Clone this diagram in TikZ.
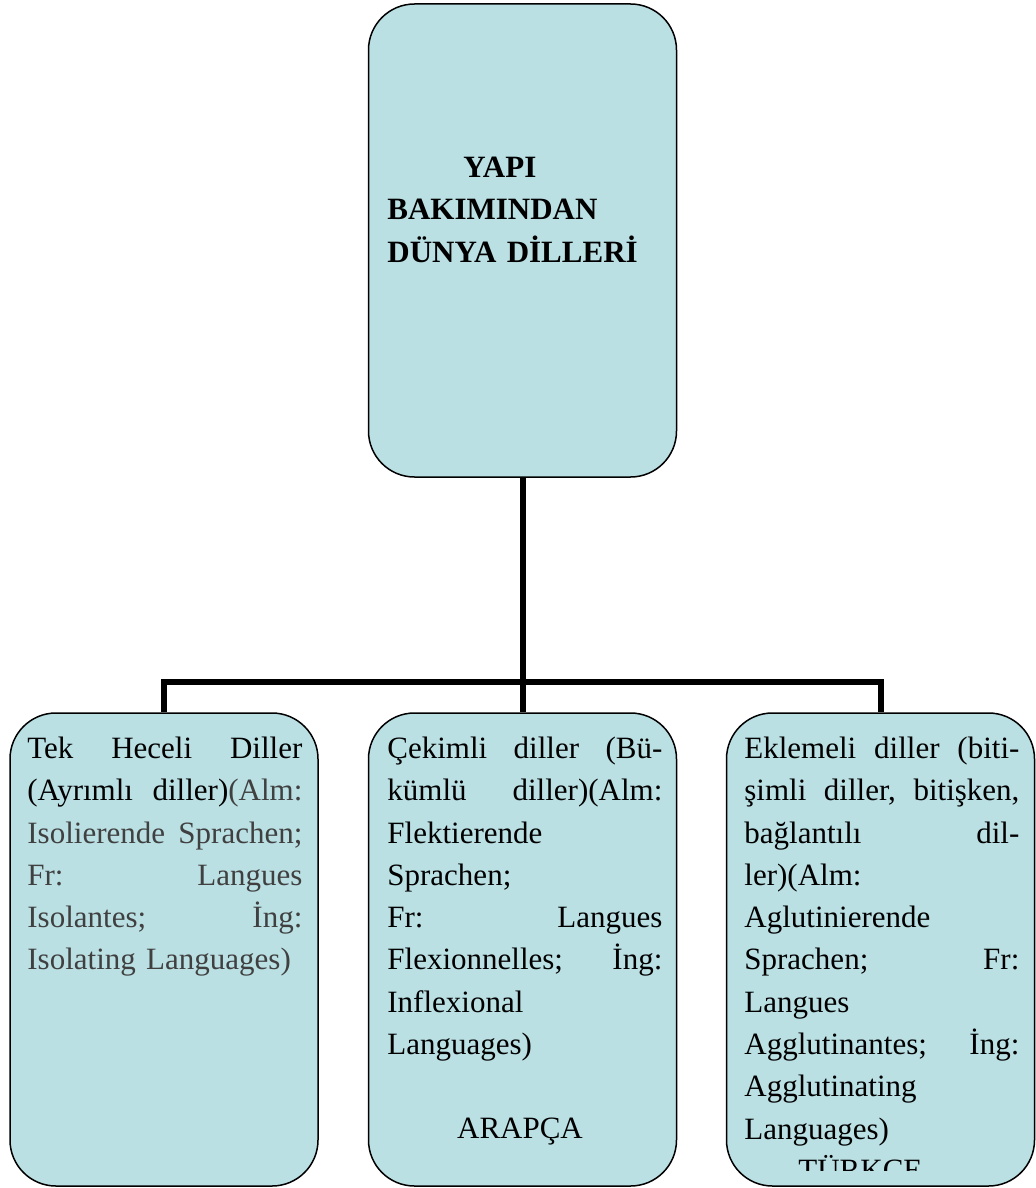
\documentclass[tikz,border=0pt]{standalone}
\usepackage{fontspec}
\setmainfont{Liberation Serif}
\definecolor{boxfill}{RGB}{186,224,228}
\definecolor{glossgray}{RGB}{64,64,64}
\newcommand{\boxfont}{\fontsize{15.5pt}{21.15pt}\selectfont}

\begin{document}
\begin{tikzpicture}[x=0.5pt, y=-0.5pt,
    langbox/.style={draw, line width=0.75pt, fill=boxfill, rounded corners=23pt,
      minimum width=154pt, minimum height=236.5pt, inner sep=0pt},
    boxtext/.style={anchor=north west, inner sep=0pt, text width=137.5pt,
      align=left, font=\boxfont},
    langname/.style={inner sep=0pt, font=\boxfont},
    link/.style={line width=3pt}]
  \useasboundingbox (0,0) rectangle (1035,1188);

  \node[langbox] (root) at (522.5,240.5) {};
  \node[boxtext, font=\boxfont\bfseries] (title) at (387,147.4)
    {\strut\hspace*{38pt}YAPI\\ BAKIMINDAN\\ DÜNYA DİLLERİ};

  \node[langbox] (isolating) at (164,949.5) {};
  \node[langbox] (inflecting) at (522.5,949.5) {};
  \node[langbox] (agglutinative) at (880.5,949.5) {};

  \node[boxtext] (isolatingtext) at (27,728.4)
    {\strut Tek\hfill Heceli\hfill Diller\\
     (Ayrımlı\hfill diller)\textcolor{glossgray}{(Alm:}\\
     \color{glossgray}Isolierende\hfill Sprachen;\\
     Fr:\hfill Langues\\
     Isolantes;\hfill İng:\\
     Isolating Languages)};
  \node[boxtext] (inflectingtext) at (387,728.4)
    {\strut Çekimli\hfill diller\hfill (Bü-\\
     kümlü\hfill diller)(Alm:\\
     Flektierende\\
     Sprachen;\\
     Fr:\hfill Langues\\
     Flexionnelles;\hfill İng:\\
     Inflexional\\
     Languages)};
  \node[boxtext] (agglutinativetext) at (744,728.4)
    {\strut Eklemeli\hfill diller\hfill (biti-\\
     şimli\hfill diller,\hfill bitişken,\\
     bağlantılı\hfill dil-\\
     ler)(Alm:\\
     Aglutinierende\\
     Sprachen;\hfill Fr:\\
     Langues\\
     Agglutinantes;\hfill İng:\\
     Agglutinating\\
     Languages)};

  \node[langname, anchor=base] (arabic) at (520,1138) {ARAPÇA};
  \begin{scope}
    \clip (727,1100) rectangle (1035,1170);
    \node[langname, anchor=base west] (turkish) at (798,1180) {TÜRKÇE};
  \end{scope}

  % connectors
  \draw[link] (root.south) -- (inflecting.north);
  \draw[link] (isolating.north) -- ++(0,-30) -| (agglutinative.north);
\end{tikzpicture}
\end{document}
